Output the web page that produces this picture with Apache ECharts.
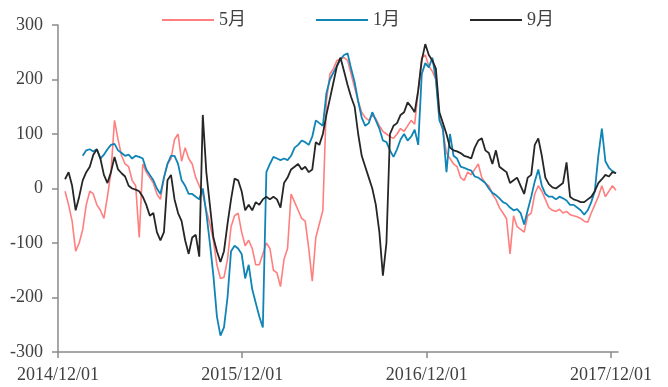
<!DOCTYPE html>
<html>
<head>
<meta charset="utf-8" />
<title>5月 1月 9月</title>
<script src="https://cdn.jsdelivr.net/npm/echarts@6.0.0/dist/echarts.min.js"></script>
<style>
  html, body { margin: 0; padding: 0; background: #fff; }
  #chart { width: 668px; height: 387px; }
</style>
</head>
<body>
<div id="chart"></div>
<script type="text/javascript">
  // weekly observations, first one on 2014/12/15
  var firstDay = [2014, 11, 15];
  var stepDays = 7;
  var tickDates = ['2014/12/01', '2015/12/01', '2016/12/01', '2017/12/01'];
  var axisStart = '2014/12/01';
  var axisEnd = '2017/12/15';
  var seriesNames = ['5月', '1月', '9月'];

  var may = [
    -5, -30, -60, -115, -100, -75, -30, -5, -10, -30,
    -40, -55, -15, 30, 125, 90, 60, 45, 40, 15,
    5, -90, 45, 30, 20, 10, -10, -20, 20, 45,
    55, 90, 100, 50, 75, 55, 45, 20, 5, -10,
    -40, -65, -95, -140, -165, -163, -130, -70, -50, -45,
    -80, -105, -95, -110, -140, -140, -120, -100, -110, -150,
    -155, -180, -130, -110, -10, -25, -40, -55, -60, -110,
    -170, -90, -65, -40, 160, 210, 220, 235, 238, 240,
    235, 210, 185, 160, 140, 130, 125, 135, 128, 115,
    105, 100, 95, 92, 100, 110, 105, 115, 125, 118,
    180, 240, 245, 225, 215, 200, 130, 105, 65, 55,
    45, 40, 20, 15, 30, 25, 35, 45, 20, 10,
    5, -10, -20, -35, -45, -55, -120, -50, -70, -75,
    -80, -50, -45, -10, 5, -5, -20, -35, -40, -42,
    -38, -45, -42, -48, -50, -52, -55, -60, -62, -45,
    -30, -15, 5, -15, -5, 5, -3
  ];

  var jan = [
    null, null, null, null, null, 60, 70, 72, 68, 72,
    55, 62, 72, 80, 82, 70, 65, 60, 62, 55,
    60, 58, 55, 35, 25, 15, 0, -10, 20, 45,
    60, 60, 45, 15, 5, -10, -10, -15, -20, 0,
    -45, -100, -160, -235, -270, -255, -200, -115, -105, -110,
    -120, -165, -140, -185, -210, -235, -255, 30, 45, 58,
    55, 52, 55, 52, 60, 75, 80, 88, 85, 80,
    95, 125, 120, 115, 175, 200, 213, 225, 237, 245,
    248, 220, 195, 160, 130, 115, 120, 140, 125, 110,
    88, 85, 70, 58, 72, 90, 100, 88, 95, 108,
    80, 210, 230, 222, 240, 200, 125, 110, 30, 100,
    60, 55, 40, 38, 35, 33, 22, 20, 15, 10,
    0, -8, -12, -18, -25, -28, -35, -40, -38, -45,
    -66, -40, -15, 13, 35, 5, -10, -15, -15, -20,
    -15, -18, -22, -30, -30, -35, -40, -48, -40, -25,
    -5, 60, 110, 50, 38, 32, 28
  ];

  var sep = [
    17, 30, 5, -40, -15, 15, 30, 40, 62, 72,
    55, 25, 10, 30, 58, 35, 28, 22, 5, 0,
    -2, -5, -15, -30, -50, -45, -80, -95, -80, 15,
    25, -20, -45, -60, -95, -120, -90, -85, -125, 135,
    30, -30, -90, -115, -135, -115, -65, -20, 18, 15,
    -5, -40, -30, -40, -25, -30, -20, -15, -20, -15,
    -20, -35, 10, 20, 35, 40, 45, 35, 40, 30,
    35, 85, 80, 100, 135, 165, 195, 225, 240, 215,
    190, 168, 150, 100, 60, 40, 20, 0, -30, -80,
    -160, -100, 100, 115, 120, 135, 140, 158, 150, 140,
    180, 235, 265, 245, 235, 220, 140, 120, 100, 75,
    70, 68, 65, 60, 58, 55, 75, 88, 92, 70,
    65, 45, 70, 40, 35, 30, 10, 15, 20, 5,
    -10, 20, 25, 80, 92, 60, 20, 8, 2, 0,
    5, 10, 48, -15, -20, -22, -25, -25, -20, -15,
    -5, 10, 17, 25, 22, 30, 28
  ];

  function toTime(s) {
    return new Date(s).getTime();
  }

  function pairUp(values) {
    return values.map(function (v, i) {
      var d = new Date(firstDay[0], firstDay[1], firstDay[2] + i * stepDays);
      return [d.getTime(), v];
    });
  }

  var tickTimes = tickDates.map(toTime);
  var font = "'Liberation Serif', 'Noto Sans CJK SC', serif";
  var axisGray = '#8a8a8a';
  var textGray = '#404040';
  var colors = ['#ff7f7f', '#0f84b6', '#262626'];

  var chart = echarts.init(document.getElementById('chart'));

  var option = {
    animation: false,
    color: colors,
    textStyle: { fontFamily: font },
    legend: {
      data: seriesNames,
      top: 6,
      left: 157,
      icon: 'rect',
      itemWidth: 52,
      itemHeight: 2,
      itemGap: 70,
      textStyle: { fontFamily: font, fontSize: 18, color: textGray }
    },
    grid: {
      left: 58,
      right: 50,
      top: 25,
      bottom: 35,
      containLabel: false
    },
    xAxis: {
      type: 'value',
      min: toTime(axisStart),
      max: toTime(axisEnd),
      splitLine: { show: false },
      axisLine: { onZero: false, lineStyle: { color: axisGray, width: 1.5 } },
      axisTick: {
        show: true,
        length: 6,
        lineStyle: { color: axisGray, width: 1.5 },
        customValues: tickTimes
      },
      axisLabel: {
        margin: 14,
        fontFamily: font,
        fontSize: 18,
        color: textGray,
        customValues: tickTimes,
        formatter: function (v) {
          var idx = tickTimes.indexOf(v);
          return idx >= 0 ? tickDates[idx] : '';
        }
      }
    },
    yAxis: {
      type: 'value',
      min: -300,
      max: 300,
      interval: 100,
      splitLine: { show: false },
      axisLine: { show: true, lineStyle: { color: axisGray, width: 1.5 } },
      axisTick: { show: true, length: 6, lineStyle: { color: axisGray, width: 1.5 } },
      axisLabel: {
        margin: 15,
        fontFamily: font,
        fontSize: 18,
        color: textGray
      }
    },
    series: [
      { name: seriesNames[0], type: 'line', data: pairUp(may), showSymbol: false, symbol: 'none', lineStyle: { width: 1.6 } },
      { name: seriesNames[1], type: 'line', data: pairUp(jan), showSymbol: false, symbol: 'none', lineStyle: { width: 1.8 } },
      { name: seriesNames[2], type: 'line', data: pairUp(sep), showSymbol: false, symbol: 'none', lineStyle: { width: 1.8 } }
    ]
  };

  chart.setOption(option);
</script>
</body>
</html>
